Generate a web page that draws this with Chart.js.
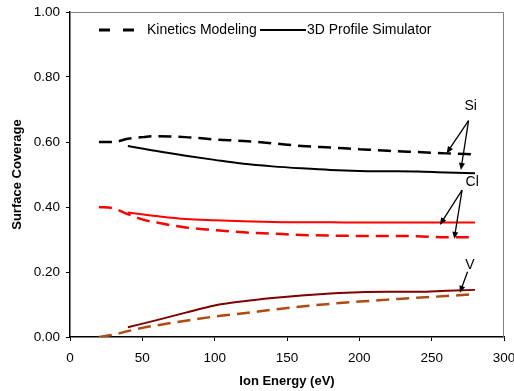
<!DOCTYPE html>
<html>
<head>
<meta charset="utf-8">
<script src="https://cdn.jsdelivr.net/npm/chart.js@4.4.0/dist/chart.umd.min.js"></script>
<style>
  html, body { margin: 0; padding: 0; background: #fff; }
</style>
</head>
<body>
<canvas id="chart" width="514" height="391"></canvas>
<script>
// ion energy (eV) for each model
const energyKin = [20, 30, 40, 50, 60, 80, 100, 120, 140, 160, 180, 200, 220, 240, 260, 280];
const energySim = [40, 60, 80, 100, 120, 140, 160, 180, 200, 220, 240, 260, 280];

// Kinetics Modeling (dashed)
const siKin = [0.600, 0.600, 0.610, 0.615, 0.618, 0.615, 0.608, 0.603, 0.596, 0.588, 0.583, 0.578, 0.573, 0.569, 0.565, 0.562];
const clKin = [0.400, 0.396, 0.378, 0.362, 0.352, 0.337, 0.329, 0.322, 0.318, 0.314, 0.312, 0.311, 0.311, 0.310, 0.307, 0.307];
const vKin = [0.000, 0.007, 0.018, 0.028, 0.036, 0.050, 0.063, 0.073, 0.084, 0.094, 0.102, 0.109, 0.115, 0.121, 0.126, 0.132];

// 3D Profile Simulator (solid)
const siSim = [0.588, 0.572, 0.558, 0.545, 0.533, 0.525, 0.519, 0.514, 0.511, 0.510, 0.509, 0.506, 0.504];
const clSim = [0.383, 0.372, 0.363, 0.359, 0.356, 0.354, 0.353, 0.353, 0.352, 0.352, 0.352, 0.352, 0.352];
const vSim = [0.030, 0.052, 0.075, 0.097, 0.110, 0.120, 0.128, 0.134, 0.138, 0.139, 0.139, 0.142, 0.145];

const legendNames = ["Kinetics Modeling", "3D Profile Simulator"];

// species labels and their arrows, in data units (eV, coverage)
const speciesLabels = ["Si", "Cl", "V"];
const labelAt = [[277, 0.711], [278, 0.478], [276.5, 0.222]];
const arrowFrom = [[275.5, 0.666], [275.5, 0.666], [271, 0.452], [271, 0.452], [274.8, 0.201]];
const arrowTo = [[260.3, 0.565], [270.2, 0.514], [255.7, 0.345], [265.6, 0.302], [269.5, 0.136]];

const FONT = "'Liberation Sans', Arial, sans-serif";

function pts(xs, ys) {
  return xs.map((x, i) => ({ x: x, y: ys[i] }));
}

function line(label, xs, ys, color, dashed) {
  return {
    label: label,
    data: pts(xs, ys),
    borderColor: color,
    borderWidth: dashed ? 2.5 : 2,
    borderDash: dashed ? [13, 7] : [],
    pointRadius: 0,
    fill: false,
    cubicInterpolationMode: "monotone",
  };
}

const extras = {
  id: "extras",
  beforeDatasetsDraw(chart) {
    const { ctx, chartArea: a } = chart;
    ctx.save();
    ctx.strokeStyle = "#808080";
    ctx.lineWidth = 1;
    ctx.beginPath();
    ctx.moveTo(a.left, a.top + 0.5);
    ctx.lineTo(a.right - 0.5, a.top + 0.5);
    ctx.lineTo(a.right - 0.5, a.bottom);
    ctx.stroke();
    ctx.restore();
  },
  afterDatasetsDraw(chart) {
    const { ctx, chartArea: a } = chart;
    const xs = chart.scales.x, ys = chart.scales.y;
    ctx.save();

    // legend
    const ly = a.top + 18;
    ctx.strokeStyle = "#000";
    ctx.lineWidth = 3;
    ctx.setLineDash([11, 13]);
    ctx.beginPath();
    ctx.moveTo(99, ly);
    ctx.lineTo(136, ly);
    ctx.stroke();
    ctx.setLineDash([]);
    ctx.lineWidth = 2;
    ctx.beginPath();
    ctx.moveTo(260, ly);
    ctx.lineTo(306, ly);
    ctx.stroke();
    ctx.fillStyle = "#000";
    ctx.font = "14px " + FONT;
    ctx.textBaseline = "middle";
    ctx.textAlign = "left";
    ctx.fillText(legendNames[0], 147, ly);
    ctx.fillText(legendNames[1], 307, ly);

    // species labels
    ctx.font = "14px " + FONT;
    ctx.textAlign = "center";
    speciesLabels.forEach((t, i) => {
      ctx.fillText(t, xs.getPixelForValue(labelAt[i][0]), ys.getPixelForValue(labelAt[i][1]));
    });

    // arrows
    ctx.lineWidth = 1.3;
    arrowFrom.forEach((f, i) => {
      const x0 = xs.getPixelForValue(f[0]), y0 = ys.getPixelForValue(f[1]);
      const x1 = xs.getPixelForValue(arrowTo[i][0]), y1 = ys.getPixelForValue(arrowTo[i][1]);
      const ang = Math.atan2(y1 - y0, x1 - x0);
      const hl = 7, hw = 3;
      ctx.beginPath();
      ctx.moveTo(x0, y0);
      ctx.lineTo(x1 - Math.cos(ang) * hl * 0.8, y1 - Math.sin(ang) * hl * 0.8);
      ctx.stroke();
      ctx.beginPath();
      ctx.moveTo(x1, y1);
      ctx.lineTo(x1 - Math.cos(ang) * hl - Math.sin(ang) * hw, y1 - Math.sin(ang) * hl + Math.cos(ang) * hw);
      ctx.lineTo(x1 - Math.cos(ang) * hl + Math.sin(ang) * hw, y1 - Math.sin(ang) * hl - Math.cos(ang) * hw);
      ctx.closePath();
      ctx.fill();
    });
    ctx.restore();
  },
};

new Chart(document.getElementById("chart"), {
  type: "line",
  data: {
    datasets: [
      line("Si kinetics", energyKin, siKin, "#000000", true),
      line("Si simulator", energySim, siSim, "#000000", false),
      line("Cl kinetics", energyKin, clKin, "#ff0000", true),
      line("Cl simulator", energySim, clSim, "#ff0000", false),
      line("V kinetics", energyKin, vKin, "#b04a10", true),
      line("V simulator", energySim, vSim, "#800000", false),
    ],
  },
  options: {
    responsive: false,
    animation: false,
    devicePixelRatio: 1,
    layout: { padding: { top: 12, right: 10, left: 0, bottom: 0 } },
    plugins: { legend: { display: false }, tooltip: { enabled: false } },
    scales: {
      x: {
        type: "linear",
        min: 0,
        max: 300,
        afterFit(s) { s.height = 54; s.paddingLeft = 0; s.paddingRight = 0; },
        ticks: { stepSize: 50, padding: 9, color: "#000", font: { family: FONT, size: 13.5 } },
        grid: { drawOnChartArea: false, tickLength: 4, color: "#000" },
        border: { color: "#000", width: 1.5 },
        title: {
          display: true,
          text: "Ion Energy (eV)",
          color: "#000",
          font: { family: FONT, size: 13, weight: "bold" },
          padding: { top: 0, bottom: 2 },
        },
      },
      y: {
        min: 0,
        max: 1,
        afterFit(s) { s.width = 70; s.paddingTop = 0; s.paddingBottom = 0; },
        ticks: {
          stepSize: 0.2,
          padding: 6,
          color: "#000",
          font: { family: FONT, size: 13.5 },
          callback: (v) => v.toFixed(2),
        },
        grid: { drawOnChartArea: false, tickLength: 4, color: "#000" },
        border: { color: "#000", width: 1.5 },
        title: {
          display: true,
          text: "Surface Coverage",
          color: "#000",
          font: { family: FONT, size: 13, weight: "bold" },
          padding: { top: 10, bottom: 0 },
        },
      },
    },
  },
  plugins: [extras],
});
</script>
</body>
</html>
